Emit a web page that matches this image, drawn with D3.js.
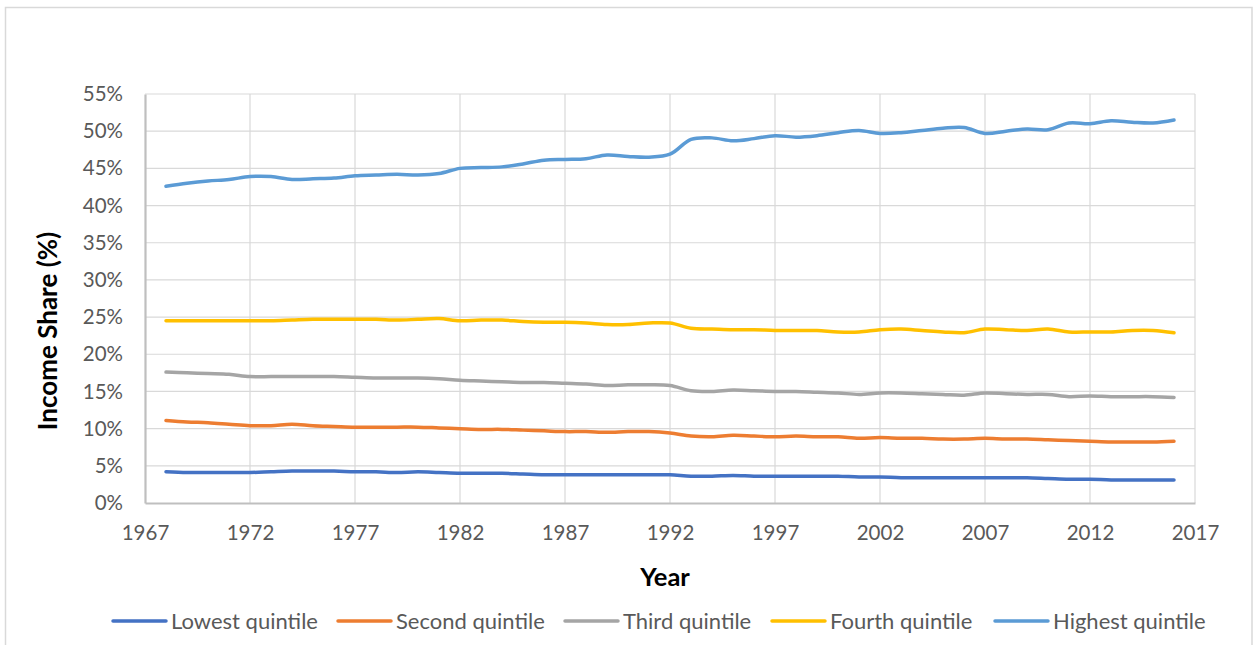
<!DOCTYPE html>
<html><head><meta charset="utf-8">
<script src="https://cdn.jsdelivr.net/npm/d3@7"></script>
<style>
html,body{margin:0;padding:0;background:#fff;}
svg{display:block;font-family:Lato,"Open Sans",sans-serif;}
</style></head>
<body>
<svg id="chart" width="1255" height="645"></svg>
<script>
const years = d3.range(1968, 2017);
const seriesNames = ["Lowest quintile","Second quintile","Third quintile","Fourth quintile","Highest quintile"];
const seriesColors = ["#4472C4","#ED7D31","#A5A5A5","#FFC000","#5B9BD5"];
const lowest  = [4.2,4.1,4.1,4.1,4.1,4.2,4.3,4.3,4.3,4.2,4.2,4.1,4.2,4.1,4.0,4.0,4.0,3.9,3.8,3.8,3.8,3.8,3.8,3.8,3.8,3.6,3.6,3.7,3.6,3.6,3.6,3.6,3.6,3.5,3.5,3.4,3.4,3.4,3.4,3.4,3.4,3.4,3.3,3.2,3.2,3.1,3.1,3.1,3.1];
const second  = [11.1,10.9,10.8,10.6,10.4,10.4,10.6,10.4,10.3,10.2,10.2,10.2,10.2,10.1,10.0,9.9,9.9,9.8,9.7,9.6,9.6,9.5,9.6,9.6,9.4,9.0,8.9,9.1,9.0,8.9,9.0,8.9,8.9,8.7,8.8,8.7,8.7,8.6,8.6,8.7,8.6,8.6,8.5,8.4,8.3,8.2,8.2,8.2,8.3];
const third   = [17.6,17.5,17.4,17.3,17.0,17.0,17.0,17.0,17.0,16.9,16.8,16.8,16.8,16.7,16.5,16.4,16.3,16.2,16.2,16.1,16.0,15.8,15.9,15.9,15.8,15.1,15.0,15.2,15.1,15.0,15.0,14.9,14.8,14.6,14.8,14.8,14.7,14.6,14.5,14.8,14.7,14.6,14.6,14.3,14.4,14.3,14.3,14.3,14.2];
const fourth  = [24.5,24.5,24.5,24.5,24.5,24.5,24.6,24.7,24.7,24.7,24.7,24.6,24.7,24.8,24.5,24.6,24.6,24.4,24.3,24.3,24.2,24.0,24.0,24.2,24.2,23.5,23.4,23.3,23.3,23.2,23.2,23.2,23.0,23.0,23.3,23.4,23.2,23.0,22.9,23.4,23.3,23.2,23.4,23.0,23.0,23.0,23.2,23.2,22.9];
const highest = [42.6,43.0,43.3,43.5,43.9,43.9,43.5,43.6,43.7,44.0,44.1,44.2,44.1,44.3,45.0,45.1,45.2,45.6,46.1,46.2,46.3,46.8,46.6,46.5,46.9,48.9,49.1,48.7,49.0,49.4,49.2,49.4,49.8,50.1,49.7,49.8,50.1,50.4,50.5,49.7,50.0,50.3,50.2,51.1,51.0,51.4,51.2,51.1,51.5];
const seriesValues = [lowest, second, third, fourth, highest];
const xTicks = d3.range(1967, 2018, 5);
const yTicks = d3.range(0, 56, 5);
const xTitle = "Year";
const yTitle = "Income Share (%)";

const svg = d3.select("#chart");
const pLeft = 145, pRight = 1195, pTop = 94, pBottom = 503;
const x = d3.scaleLinear().domain([1967, 2017]).range([pLeft, pRight]);
const y = d3.scaleLinear().domain([0, 55]).range([pBottom, pTop]);

// outer border
svg.append("rect").attr("x", 5.5).attr("y", 7.5).attr("width", 1246.5).attr("height", 660)
  .attr("fill", "none").attr("stroke", "#d9d9d9").attr("stroke-width", 1.5);

// gridlines
svg.append("g").selectAll("line").data(yTicks.filter(d => d > 0)).join("line")
  .attr("x1", pLeft).attr("x2", pRight).attr("y1", d => y(d)).attr("y2", d => y(d))
  .attr("stroke", "#d9d9d9").attr("stroke-width", 1.2);
svg.append("g").selectAll("line").data(xTicks.filter(d => d > 1967)).join("line")
  .attr("x1", d => x(d)).attr("x2", d => x(d)).attr("y1", pTop).attr("y2", pBottom)
  .attr("stroke", "#d9d9d9").attr("stroke-width", 1.2);

// axes
const xAxis = svg.append("g").attr("transform", `translate(0,${pBottom})`)
  .call(d3.axisBottom(x).tickValues(xTicks).tickFormat(d3.format("d")).tickSize(0).tickPadding(22));
const yAxis = svg.append("g").attr("transform", `translate(${pLeft},0)`)
  .call(d3.axisLeft(y).tickValues(yTicks).tickFormat(d => d + "%").tickSize(0).tickPadding(22));
[xAxis, yAxis].forEach(a => {
  a.select(".domain").attr("stroke", "#bfbfbf").attr("stroke-width", 2.2);
  a.selectAll("text").attr("fill", "#595959").style("font-size", "20.5px").style("font-family", "Lato, 'Open Sans', sans-serif");
});

// lines
const line = d3.line().x((d, i) => x(years[i])).y(d => y(d)).curve(d3.curveCatmullRom.alpha(0.5));
svg.append("g").selectAll("path").data(seriesValues).join("path")
  .attr("d", d => line(d)).attr("fill", "none")
  .attr("stroke", (d, i) => seriesColors[i]).attr("stroke-width", 3.5)
  .attr("stroke-linecap", "round").attr("stroke-linejoin", "round");

// axis titles
svg.append("text").attr("x", (pLeft + pRight) / 2 - 5).attr("y", 586).attr("text-anchor", "middle")
  .style("font-size", "25.5px").style("font-weight", "bold").attr("fill", "#000").text(xTitle);
svg.append("text").attr("transform", "translate(57,331) rotate(-90)").attr("text-anchor", "middle")
  .style("font-size", "26px").style("font-weight", "bold").attr("fill", "#000").text(yTitle);

// legend
const legendX = [113, 338, 565, 772, 995];
const lg = svg.append("g").selectAll("g").data(seriesNames).join("g")
  .attr("transform", (d, i) => `translate(${legendX[i]},621)`);
lg.append("line").attr("x1", 0).attr("x2", 53).attr("y1", 0).attr("y2", 0)
  .attr("stroke", (d, i) => seriesColors[i]).attr("stroke-width", 3.5).attr("stroke-linecap", "round");
lg.append("text").attr("x", 58).attr("y", 7.5).attr("fill", "#595959").style("font-size", "22px").text(d => d);
</script>
</body></html>
